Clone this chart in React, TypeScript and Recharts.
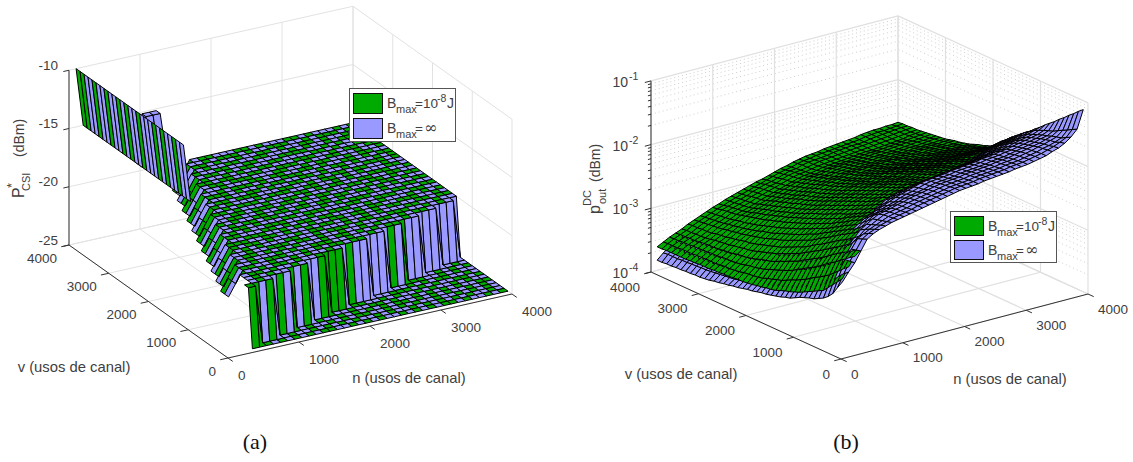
import React from 'react';
import { ScatterChart, Scatter, XAxis, YAxis, Legend } from 'recharts';

const GREEN = '#00AA00';
const BLUE = '#9999FF';
const TXT = '#404040';
const FONT = '"Liberation Sans", Arial, sans-serif';

const nTicks = [0, 1000, 2000, 3000, 4000];
const vTicks = [0, 1000, 2000, 3000, 4000];
const tickNames = ['0', '1000', '2000', '3000', '4000'];
const zTicksA = [-10, -15, -20, -25];
const zTicksB = [-1, -2, -3, -4];
const minorDecades = [2, 3, 4, 5, 6, 7, 8, 9];
const titleN = 'n (usos de canal)';
const titleV = 'v (usos de canal)';
const seriesNames = ['Bmax=10^-8 J', 'Bmax=inf'];

// chart (a): power level per (n, v) region, grid of 100 channel uses
const plateauFrom = [0, 400, 400, 500, 500, 500, 600, 600, 600, 700, 700, 700, 800, 800, 800, 900, 900, 900, 1000, 1000, 1000, 1100, 1100, 1100, 1200, 1200, 1200, 1300, 1300, 1300, 1400, 1400, 1400, 1500, 1500, 1500, 1600, 1600, 1600, 1700];
const plateauTo = [0, 500, 800, 1100, 1400, 1700, 2000, 2400, 2700, 3000, 3300, 3600, 3900, 4000, 4000, 4000, 4000, 4000, 4000, 4000, 4000, 4000, 4000, 4000, 4000, 4000, 4000, 4000, 4000, 4000, 4000, 4000, 4000, 4000, 4000, 4000, 4000, 4000, 4000, 4000];
const levelsA = { ridgeTop: -10, ridgeLow: -15, plateau: -20, floor: -25, flap: -11, flapLow: -13, stepHigh: -21, stepLow: -22 };
const frontColors = 'ggbgbgbgbgbbggggbgbbbbbbgbgbbbbbbbbbb';
const ridgeColors = 'bbgbbgbgbbbgbbgbgbbgbbgbbgg';
const hangColors = 'ggggbgbgbgbggbgbgbbgbbgbgbgbgbbgbgbgbgbg';
const cellColors = [
  'gbgbbgbgbgbgbggbbgbgbgbbgbgbgbggbgbbgbgb',
  'bgbggbbgbgbbgbgbgbgbbgbgbbgbgbgbgbgbbgbg',
  'gbbgbgbgbggbgbbgbgbggbbgbgbgbbgbbgbgbgbb',
  'bggbbgbgbbgbgbgbbgbgbgbgbggbgbgbgbbgbgbg',
  'gbbgbggbgbbgbggbgbbgbbggbgbbgbgbgbgbbggb',
  'bgbbgbbgbggbgbbgbggbggbbgbgbbgbgbbgbgbbg',
  'gbggbggbbgbbgbgbbgbbgbbgbbgggbgbgbbggbgb',
  'bgbbgbbgbgggbbgbgbggbggbbggbbgbgbggbbgbg',
  'ggbgbgbgbbbgbgbbgggbbgbbgbbgbbggbbgbgbbg',
  'bbggbgbggbgbgbgbbbgbggbgbgbgggbbgbgbgbgb',
  'gbbgbgbbgbbgggbggbgbbgbbgbgbbbgbgbbgbgbg',
  'bggbbggbgbgbbbggbbgbgggbgbbggbgbggbgbgbb',
  'ggbbgbbgbggbgbbbgbggbbbgbggbbgggbbgbgbgg',
  'bbggbgbgggbbggbgbbgbggbgbbgbgbbbggbbgbbg',
  'gbgbgbbgbbgggbbgbgbgbbggbggbgbggbbggbggb',
  'bgbggbgbggbbbggbgbggbggbbbgbggbbgggbbgbb',
  'ggbbgggbbgbgbbgggbbbgbbgggbbgbgbbbgbgbgg',
  'bbgbbbgggbggbgbbbggbgggbbbggbbgggbbggbbg',
  'gbgggbbgbbgbggbggbbgbbbgbgbgggbbbggbbggb',
  'bgbbbggbggbgbbggbggbggbggbgbbbgbgbbggbbg',
  'gbggbbgbgbbggbbgbbgbbgbbgbggbggbgbgbbggb',
  'bbgbggbgggbbggbgggbggbgbggbbgbbgbggbgbbg',
  'ggbgbbgbbbggbgbbbgbbggbgbbgbbggbggbgbggb',
  'bgbbgbggbgbbgbgggbgbbbggbgbggbbggbbggbbg',
  'gggbbggbgbggbgbbbgbgggbbggbbgbgbbgggbbgb',
  'bbgggbbgbgbbggbgggbbbggbbgbggbgbgbbbggbg',
  'gbbbgggbggbgbbgbbggbgbbggbbgbggbggbbgbbg',
  'bggbbbbgbbgbgggbgbbgbggbbggbgbbgbbgggbgb',
  'gbgggbgbgggbbbgbgggbgbbgggbbgbggbgbbgbgb',
  'bgbbbgbgbbbggbbgbbbggbggbbggbgbbggbgbggb',
  'ggbgbbggbggbgbggbgggbbbggbbgbggbbgbggbbg',
  'bbggbgbbgbbgbggbggbbggbbgggbgbbggbbgbbgb',
  'gbbgbgbgbggbbbgbbgbgbbggbbbgggbbgbggbggb',
  'bggbgbbggbbgggbggbgbggbbggbbbbggbgbbgbbg',
  'gbgbbgggbggbbbgbbggbbggbbbggggbbgbgbbggb',
  'bgbgbbbgbbbggbgbgbbggbbggbbbgbgbbgbggbbg',
  'gbbgggbbgggbbgbggbgbbgbbggbgbbggbgbbgbgb',
  'bggbbbggbbgbgbgbbgbgggbgbbgggbbgbgggbgbg',
  'gbbggbbgbgbgbbggbggbbbggbgbbbggbgbbbgbgb',
  'bgbbgbgbgbggbgbbgbbggbbgbggbgbbggbggbgbg',
];

// chart (b): hundredths of a decade above 1e-4, rows v = 100..4000, columns n = 100..4000
const greenLog = [
  [120,136,150,158,165,172,178,182,185,188,190,193,195,197,199,201,203,204,206,207,208,209,211,212,213,214,215,216,218,219,220,221,223,224,226,228,230,233,236,240],
  [112,130,145,154,161,169,175,179,182,186,188,191,193,195,197,199,201,202,204,205,206,207,209,210,211,212,213,214,216,217,218,219,221,222,224,226,228,230,233,237],
  [104,123,139,149,158,165,172,176,180,183,186,189,191,193,195,197,199,201,203,204,205,206,208,209,210,211,212,213,215,216,217,218,219,220,222,224,225,228,230,233],
  [96,117,134,144,154,162,168,173,177,180,183,186,188,191,193,195,197,199,201,202,203,204,206,207,208,209,210,211,213,214,215,216,217,218,220,221,223,225,227,230],
  [88,110,128,140,150,158,165,170,174,178,181,184,186,189,191,193,195,197,199,200,201,202,204,205,206,207,208,209,211,212,213,214,215,216,218,219,220,222,224,226],
  [84,105,123,135,145,153,160,166,170,174,177,180,183,186,188,190,192,194,196,198,199,200,201,203,204,205,206,207,208,209,210,211,212,213,215,216,217,219,221,222],
  [80,100,118,130,140,148,156,161,166,170,173,176,179,182,185,187,189,192,194,195,196,197,199,200,201,202,203,204,206,207,208,209,210,211,212,213,214,216,217,219],
  [76,96,112,124,135,144,151,157,161,166,170,173,176,179,182,185,187,189,191,193,194,195,196,198,199,200,201,202,203,204,205,206,207,208,210,211,212,212,214,215],
  [72,91,107,119,130,139,147,152,157,162,166,169,172,176,179,182,184,187,189,190,191,192,194,195,196,197,198,199,201,202,203,204,205,206,207,208,209,209,210,212],
  [68,86,102,114,125,134,142,148,153,158,162,165,169,173,176,179,181,184,186,188,189,190,191,193,194,195,196,197,198,199,200,201,202,203,204,205,206,206,207,208],
  [65,82,98,110,120,129,137,143,149,154,158,161,165,169,172,175,178,181,183,185,186,187,188,190,191,192,193,194,195,196,196,197,198,199,200,201,202,202,203,204],
  [62,78,93,105,116,124,132,139,144,149,154,157,161,165,169,172,174,177,180,182,183,184,185,187,188,189,190,190,191,192,193,194,195,195,196,197,198,198,199,200],
  [60,75,89,101,111,120,128,134,140,145,150,153,158,161,165,168,171,174,176,178,180,181,182,184,185,186,187,187,188,189,190,190,191,192,193,193,194,194,195,196],
  [57,71,84,96,107,115,123,130,135,141,145,149,154,158,161,164,167,170,173,175,177,178,179,181,182,183,184,184,185,186,186,187,188,188,189,189,190,190,191,192],
  [54,67,80,92,102,110,118,125,131,136,141,146,150,154,158,161,164,167,170,172,174,175,176,178,179,180,181,181,182,183,183,184,185,185,186,186,187,187,188,188],
  [52,65,77,89,98,106,114,121,127,133,138,143,147,151,155,158,161,164,167,169,170,172,173,175,176,177,177,178,178,179,180,180,181,181,182,182,183,183,183,183],
  [51,62,74,85,95,103,111,118,124,129,134,139,143,147,151,154,157,160,163,165,167,168,169,171,172,173,174,174,175,176,176,176,177,177,178,178,178,178,179,179],
  [49,60,71,82,91,99,107,114,120,126,131,136,140,144,148,151,154,157,160,162,163,165,166,168,169,170,170,171,171,172,172,173,173,173,173,174,174,174,174,174],
  [48,57,68,78,88,96,104,110,117,122,127,132,137,141,145,148,151,154,157,159,160,162,163,165,166,167,167,168,168,169,169,169,169,169,169,169,169,169,169,169],
  [46,55,65,75,84,92,100,107,113,119,124,129,133,137,141,144,147,150,153,155,156,158,159,161,162,163,163,164,164,165,165,165,165,165,165,165,165,165,164,164],
  [45,54,63,73,82,89,97,104,110,116,121,126,130,134,138,141,144,147,150,152,153,155,156,158,159,160,160,161,161,162,162,162,162,162,162,162,162,162,161,161],
  [44,53,61,71,79,87,94,101,107,113,118,123,127,131,135,138,141,144,147,149,150,152,153,155,156,157,157,158,158,159,159,159,159,159,159,159,159,159,158,158],
  [44,52,60,68,77,84,92,98,104,110,115,119,123,127,131,134,137,140,143,145,147,148,150,151,152,153,153,154,154,155,155,155,156,156,156,156,156,156,156,156],
  [43,50,58,66,74,82,89,95,101,107,112,116,120,124,128,131,134,137,140,142,144,145,147,148,149,150,150,151,151,152,152,152,153,153,153,153,153,153,153,153],
  [42,49,56,64,72,79,86,92,98,104,109,113,117,121,125,128,131,134,137,139,141,142,144,145,146,147,147,148,148,149,149,149,150,150,150,150,150,150,150,150],
  [42,48,55,63,70,77,84,90,96,102,106,110,114,118,122,125,128,131,134,136,138,139,141,142,143,144,144,145,145,146,146,147,147,148,148,148,148,148,148,148],
  [41,48,54,62,69,75,82,88,93,99,104,108,112,116,119,122,125,128,131,133,135,136,138,139,140,141,142,142,143,144,144,144,145,145,146,146,146,146,146,146],
  [41,47,54,60,67,74,80,85,91,97,101,105,109,113,117,120,123,126,129,131,133,134,136,137,138,139,139,140,141,141,141,142,142,143,144,144,144,144,145,145],
  [40,46,53,59,66,72,78,83,88,94,99,102,106,110,114,117,120,123,126,128,130,131,133,134,135,136,136,137,138,138,139,139,140,141,141,142,142,142,143,143],
  [40,46,52,58,64,70,76,81,86,92,96,100,104,108,111,114,117,120,123,125,127,128,130,131,132,133,134,134,135,136,136,137,137,138,139,139,140,140,141,141],
  [40,46,52,57,63,69,75,79,84,90,94,98,101,105,108,111,114,117,120,123,125,126,128,129,130,131,132,132,133,134,134,135,135,136,137,137,138,139,140,140],
  [39,45,51,56,62,67,73,78,82,88,92,95,99,103,106,109,112,115,118,120,122,123,125,127,128,129,130,130,131,132,132,133,133,134,135,136,137,137,138,139],
  [39,45,51,56,61,66,72,76,81,86,89,93,96,100,103,106,109,112,115,118,120,121,123,125,126,127,128,128,129,130,131,131,132,133,134,135,135,136,137,138],
  [38,44,50,55,59,65,70,75,79,84,87,90,94,97,101,104,107,110,113,115,117,118,120,122,123,124,125,126,127,128,129,129,130,131,132,133,134,135,136,137],
  [38,44,50,54,58,63,69,73,77,82,85,88,91,95,98,101,104,107,110,113,115,116,118,120,121,122,123,124,125,126,127,127,128,129,130,131,132,134,135,136],
  [38,44,49,53,57,62,68,72,76,81,84,87,90,94,97,100,103,106,109,112,114,115,117,119,120,121,122,123,124,125,126,127,128,129,130,131,132,133,134,135],
  [38,43,49,53,57,62,67,71,75,80,83,86,89,93,96,99,102,104,108,111,113,114,116,118,120,121,122,123,124,125,126,127,128,129,130,131,132,133,134,135],
  [38,43,48,52,56,61,66,70,74,79,82,85,88,91,95,98,101,103,106,109,112,113,116,118,119,120,121,123,124,125,126,126,127,129,130,131,132,133,134,134],
  [37,43,48,52,56,61,65,69,73,77,80,84,87,90,93,96,99,102,105,108,110,112,115,117,118,120,121,122,123,124,125,126,127,129,130,131,131,132,133,134],
  [37,42,47,51,55,60,64,68,72,76,79,83,86,89,92,95,98,100,103,106,109,111,114,116,118,119,120,122,123,124,125,126,127,129,130,131,131,132,132,133],
];
const blueLog = [
  [115,128,140,156,172,178,182,185,188,190,192,194,196,198,200,202,204,206,208,210,211,212,213,215,216,217,218,219,221,222,223,225,227,229,233,236,241,248,258,286],
  [103,122,139,154,169,175,179,183,186,189,191,193,195,198,200,202,204,206,208,210,211,212,213,215,216,217,218,219,221,222,223,225,227,229,232,235,239,244,254,280],
  [90,115,138,152,166,171,176,180,184,188,190,192,194,197,199,201,203,205,207,209,210,211,212,214,215,216,217,218,220,221,222,224,226,228,231,233,236,240,250,273],
  [82,106,126,142,157,164,172,177,182,187,189,191,193,196,198,200,202,204,206,208,209,210,211,213,214,215,216,217,219,220,221,223,225,227,230,232,235,238,246,267],
  [76,98,115,132,148,158,168,174,180,185,187,189,192,194,197,199,201,203,205,207,208,209,210,212,213,214,215,216,218,219,220,222,224,226,228,230,233,236,242,260],
  [72,92,109,125,140,150,160,167,174,180,183,185,188,191,194,196,198,200,203,205,206,207,208,210,211,212,213,214,216,217,218,220,222,224,226,228,231,233,238,254],
  [68,86,102,117,133,143,153,161,168,174,177,181,184,187,191,194,196,199,202,204,205,206,207,209,210,211,212,213,215,216,217,219,220,222,224,226,228,231,235,247],
  [66,80,95,110,125,135,145,155,162,168,172,176,180,184,188,191,194,197,200,202,203,204,205,207,208,209,210,211,213,214,215,217,218,220,222,224,226,228,232,241],
  [63,77,91,105,119,128,137,146,153,159,164,169,174,178,183,186,189,192,194,196,198,199,200,202,203,204,205,206,208,209,211,213,214,216,219,221,223,225,229,235],
  [60,74,88,100,113,121,130,137,144,150,156,162,167,172,178,181,184,186,188,190,192,193,194,196,197,198,200,201,202,204,206,208,210,212,215,217,219,222,225,228],
  [56,70,83,95,106,114,123,129,136,142,148,153,158,163,169,171,174,177,179,181,183,184,186,188,189,191,193,194,196,198,200,202,205,207,210,212,214,217,220,222],
  [52,66,78,90,100,108,116,122,129,135,140,145,150,155,160,162,165,168,170,172,174,176,178,180,182,184,186,188,190,193,195,197,200,202,205,207,209,212,215,215],
  [50,63,75,86,96,104,111,117,124,130,134,139,144,149,153,156,159,162,164,167,169,171,173,175,177,179,181,183,185,187,189,191,194,196,199,201,203,206,209,209],
  [47,60,71,82,93,100,107,112,119,125,129,133,138,142,147,149,152,155,158,161,163,165,167,169,171,173,175,177,179,181,183,185,188,190,193,195,197,200,203,202],
  [45,57,68,79,90,96,103,108,114,120,124,128,132,136,140,143,146,149,152,155,157,159,161,163,165,167,169,171,173,175,177,179,182,184,187,189,191,194,197,196],
  [43,55,65,76,86,92,99,104,110,116,120,124,128,132,136,139,142,145,148,151,153,155,157,159,161,163,165,167,169,171,172,174,177,178,181,183,185,188,190,190],
  [41,52,63,73,83,89,96,100,106,112,116,120,124,128,133,136,139,142,145,148,150,152,154,156,158,159,161,163,164,166,168,169,171,172,175,177,179,181,184,183],
  [40,50,60,70,79,85,92,97,102,108,112,116,120,125,130,133,136,139,142,145,147,149,151,152,154,155,157,158,160,161,163,164,166,167,169,171,172,175,177,177],
  [38,47,58,67,76,82,88,93,98,104,108,112,116,121,126,129,132,135,138,141,143,145,147,149,151,152,153,155,155,157,158,159,160,161,163,164,165,166,168,170],
  [36,44,55,64,72,78,85,90,95,100,104,108,112,117,122,125,129,132,135,138,140,142,144,146,148,149,150,151,151,152,153,154,155,155,156,157,158,158,159,164],
  [35,43,53,62,70,76,83,88,93,98,102,106,110,115,120,123,127,130,133,136,138,140,142,144,146,147,148,149,149,150,151,152,153,153,154,155,156,156,157,158],
  [33,41,50,59,67,74],[31,39,48,56,64,71],[30,37,46,54,61,69],[28,35,44,52,59,67],[27,34,42,50,57,65],[25,33,41,48,56,63],[24,32,40,47,54,61],[22,31,39,46,53,59],[21,30,38,45,51,57],
  [20,29,37,44,50,56],[20,29,37,43,49,55],[19,28,36,42,48,54],[19,28,35,41,47,53],[18,27,35,41,46,52],[18,27,34,40,45,51],[17,26,34,39,45,50],[17,26,33,39,44,49],[16,26,33,38,43,48],[16,25,32,37,42,47],
];

type Pt = [number, number];
type Item = any;

function pathItem(points: Pt[], s: any): Item {
  const sx = points.reduce((a, p) => a + p[0], 0) / points.length;
  const sy = points.reduce((a, p) => a + p[1], 0) / points.length;
  return { sx, sy, pts: points.map((p) => [p[0] - sx, p[1] - sy]), ...s };
}
function textItem(sx: number, sy: number, label: string, o: any = {}): Item {
  return { sx, sy, label, ...o };
}

function Mark(props: any) {
  const { cx, cy } = props;
  const p = props.payload || props;
  if (p.label != null) {
    return (
      <text
        x={cx}
        y={cy}
        fontFamily={p.family || FONT}
        fontSize={p.size || 13.5}
        fill={p.color || TXT}
        textAnchor={p.anchor || 'middle'}
        dominantBaseline={p.base || 'central'}
        transform={p.rot ? `rotate(${p.rot} ${cx} ${cy})` : undefined}
      >
        {p.label}
      </text>
    );
  }
  const d = p.pts.map((q: number[], i: number) => `${i ? 'L' : 'M'}${(cx + q[0]).toFixed(2)} ${(cy + q[1]).toFixed(2)}`).join('') + (p.closed ? 'Z' : '');
  return <path d={d} fill={p.paint || 'none'} stroke={p.line} strokeWidth={p.w || 1} strokeDasharray={p.dash} strokeLinejoin="round" />;
}

function legendRow(top: number, patch: string, exp: boolean, h: number) {
  const txt: any = { position: 'absolute', whiteSpace: 'nowrap', fontFamily: FONT, color: TXT, lineHeight: 1 };
  return (
    <React.Fragment key={patch}>
      <div style={{ position: 'absolute', left: 3, top, width: 30, height: h, background: patch, border: '1px solid #111', boxSizing: 'border-box' }} />
      <span style={{ ...txt, left: 37, top: top + 3, fontSize: 14 }}>B</span>
      <span style={{ ...txt, left: 46, top: top + 11, fontSize: 11 }}>max</span>
      <span style={{ ...txt, left: 65, top: top + 4, fontSize: 13.5 }}>{exp ? '=10' : '='}</span>
      {exp ? <span style={{ ...txt, left: 87, top: top, fontSize: 10.5 }}>-8</span> : null}
      {exp ? <span style={{ ...txt, left: 97, top: top + 3, fontSize: 14 }}>J</span> : <span style={{ ...txt, left: 74, top: top + 2, fontSize: 16, fontFamily: '"DejaVu Serif", serif' }}>∞</span>}
    </React.Fragment>
  );
}
const legendBox = (height: number, patchH: number, gap: number) => () => (
  <div style={{ position: 'relative', width: 107, height, background: '#fff', border: '1px solid #555', boxSizing: 'border-box' }}>
    {legendRow(4, GREEN, true, patchH)}
    {legendRow(4 + gap, BLUE, false, patchH)}
  </div>
);

/* ---------- chart (a) ---------- */
const ax = { ox: 228, oy: 358, nx: 284, ny: -64, vx: -159, vy: -113, zs: 11.65 };
const pA = (n: number, v: number, z: number): Pt => [
  ax.ox + (ax.nx * n) / 4000 + (ax.vx * v) / 4000,
  ax.oy + (ax.ny * n) / 4000 + (ax.vy * v) / 4000 - ax.zs * (z + 25),
];
function zA(i: number, j: number): number | null {
  const n = (i + 1) * 100;
  if ((j === 25 || j === 26) && (n === 300 || n === 400 || n === 500)) return levelsA.flap;
  if (j === 24 && (n === 300 || n === 400 || n === 500)) return levelsA.flapLow;
  if (j >= 12 && i === 0) return levelsA.ridgeTop;
  if (j >= 12 && i === 1) return levelsA.ridgeLow;
  const pf = plateauFrom[j];
  const pt = plateauTo[j];
  if (pf && n >= pf && n <= pt) return levelsA.plateau;
  if (pf && j >= 6 && n === pf - 100) return levelsA.stepHigh;
  if (pf && j >= 6 && n === pf - 200) return levelsA.stepLow;
  if (n > pt && n >= 400) return levelsA.floor;
  return null;
}
function buildA() {
  const cells: any[] = [];
  for (let j = 0; j < 39; j++) {
    for (let i = 0; i < 39; i++) {
      const zs = [zA(i, j), zA(i + 1, j), zA(i + 1, j + 1), zA(i, j + 1)];
      if (zs.some((z) => z === null)) continue;
      const z4 = zs as number[];
      const n0 = (i + 1) * 100;
      const v0 = (j + 1) * 100;
      const n1 = n0 + 100;
      const v1 = v0 + 100;
      const range = Math.max(...z4) - Math.min(...z4);
      let c = cellColors[j][i];
      if (i === 0 && j >= 12) c = ridgeColors[j - 12] || 'b';
      else if (j >= 6 && i >= 2 && n0 < plateauFrom[j]) c = hangColors[j] || 'g';
      else if (range >= 3) c = frontColors[i - 3] || 'b';
      if (j >= 24 && j <= 26 && i >= 1 && i <= 4) c = 'b';
      const zm = (z4[0] + z4[1] + z4[2] + z4[3]) / 4;
      const key = (0.446 * (n0 + 50)) / 4000 - (0.798 * (v0 + 50)) / 4000 + (0.403 * (zm + 25)) / 15;
      cells.push({
        key,
        item: pathItem([pA(n0, v0, z4[0]), pA(n1, v0, z4[1]), pA(n1, v1, z4[2]), pA(n0, v1, z4[3])], {
          paint: c === 'g' ? GREEN : BLUE,
          line: '#000',
          w: 1,
          closed: true,
        }),
      });
    }
  }
  cells.sort((a, b) => a.key - b.key);
  return cells.map((c) => c.item);
}
function frameA() {
  const out: Item[] = [];
  const g = { line: '#e2e2e2', w: 1 };
  const a = { line: '#333', w: 1 };
  nTicks.forEach((n) => {
    out.push(pathItem([pA(n, 0, -25), pA(n, 4000, -25), pA(n, 4000, -10)], g));
  });
  vTicks.forEach((v) => {
    out.push(pathItem([pA(0, v, -25), pA(4000, v, -25), pA(4000, v, -10)], g));
  });
  zTicksA.forEach((z) => {
    out.push(pathItem([pA(0, 4000, z), pA(4000, 4000, z), pA(4000, 0, z)], g));
  });
  out.push(pathItem([pA(0, 4000, -10), pA(0, 4000, -25), pA(0, 0, -25), pA(4000, 0, -25)], a));
  zTicksA.forEach((z) => out.push(pathItem([pA(0, 4000, z), pA(-80, 4000, z)], a)));
  vTicks.forEach((v) => out.push(pathItem([pA(0, v, -25), pA(-110, v, -25)], a)));
  nTicks.forEach((n) => out.push(pathItem([pA(n, 0, -25), pA(n, -120, -25)], a)));
  return out;
}
function textA() {
  const out: Item[] = [];
  zTicksA.forEach((z) => {
    const p = pA(0, 4000, z);
    out.push(textItem(58, p[1] - 5, String(z), { anchor: 'end' }));
  });
  vTicks.forEach((v, k) => {
    const p = pA(0, v, -25);
    out.push(textItem(p[0] - 12, p[1] + 13, tickNames[k], { anchor: 'end' }));
  });
  nTicks.forEach((n, k) => {
    const p = pA(n, 0, -25);
    out.push(textItem(p[0] + 10, p[1] + 17, tickNames[k], { anchor: 'start' }));
  });
  out.push(textItem(74, 367, titleV, { size: 14.8 }));
  out.push(textItem(409, 378, titleN, { size: 14.8 }));
  out.push(textItem(24, 198, 'P', { size: 16, rot: -90, anchor: 'start', base: 'auto' }));
  out.push(textItem(16, 188, '*', { size: 13, rot: -90, anchor: 'start', base: 'auto' }));
  out.push(textItem(30, 191, 'CSI', { size: 11, rot: -90, anchor: 'start', base: 'auto' }));
  out.push(textItem(24, 157, '(dBm)', { size: 14, rot: -90, anchor: 'start', base: 'auto' }));
  out.push(textItem(255, 441, '(a)', { size: 22, family: '"Liberation Serif", serif', color: '#111' }));
  return out;
}

/* ---------- chart (b) ---------- */
const bx = { ox: 841, oy: 359, nx: 247, ny: -65, vx: -190, vy: -87, zs: 63.7 };
const pB = (n: number, v: number, h: number): Pt => [
  bx.ox + (bx.nx * n) / 4000 + (bx.vx * v) / 4000,
  bx.oy + (bx.ny * n) / 4000 + (bx.vy * v) / 4000 - (bx.zs * h) / 100,
];
function meanCell(tbl: number[][], i: number, j: number): number | null {
  const r0 = tbl[j];
  const r1 = tbl[j + 1];
  if (!r0 || !r1) return null;
  const q = [r0[i], r0[i + 1], r1[i + 1], r1[i]];
  if (q.some((x) => x === undefined)) return null;
  return (q[0] + q[1] + q[2] + q[3]) / 4;
}
function buildB() {
  const cells: any[] = [];
  const add = (tbl: number[][], other: number[][], paint: string, isBlue: boolean) => {
    for (let j = 0; j < tbl.length - 1; j++) {
      for (let i = 0; i < 39; i++) {
        const mine = meanCell(tbl, i, j);
        if (mine === null) continue;
        const theirs = meanCell(other, i, j);
        const hidden = theirs !== null && theirs > mine && !(isBlue && i < 6);
        if (hidden) continue;
        const a = tbl[j][i];
        const b = tbl[j][i + 1];
        const c = tbl[j + 1][i + 1];
        const d = tbl[j + 1][i];
        const n0 = (i + 1) * 100;
        const v0 = (j + 1) * 100;
        const key = (0.574 * (n0 + 50)) / 4000 - (0.745 * (v0 + 50)) / 4000 + (0.342 * (mine / 100)) / 3;
        cells.push({
          key,
          item: pathItem([pB(n0, v0, a), pB(n0 + 100, v0, b), pB(n0 + 100, v0 + 100, c), pB(n0, v0 + 100, d)], { paint, line: '#000', w: 1, closed: true }),
        });
      }
    }
  };
  add(blueLog, greenLog, BLUE, true);
  add(greenLog, blueLog, GREEN, false);
  cells.sort((a, b) => a.key - b.key);
  return cells.map((c) => c.item);
}
function frameB() {
  const out: Item[] = [];
  const g = { line: '#e0e0e0', w: 1.2 };
  const m = { line: '#cfcfcf', w: 1, dash: '1 3' };
  const a = { line: '#333', w: 1 };
  const top = 300;
  for (let d = 0; d < 3; d++) {
    minorDecades.forEach((k) => {
      const h = (d + Math.log10(k)) * 100;
      out.push(pathItem([pB(0, 4000, h), pB(4000, 4000, h), pB(4000, 0, h)], m));
    });
  }
  nTicks.forEach((n) => out.push(pathItem([pB(n, 0, 0), pB(n, 4000, 0), pB(n, 4000, top)], g)));
  vTicks.forEach((v) => out.push(pathItem([pB(0, v, 0), pB(4000, v, 0), pB(4000, v, top)], g)));
  zTicksB.forEach((z) => {
    const h = (z + 4) * 100;
    out.push(pathItem([pB(0, 4000, h), pB(4000, 4000, h), pB(4000, 0, h)], g));
  });
  out.push(pathItem([pB(0, 4000, top), pB(0, 4000, 0), pB(0, 0, 0), pB(4000, 0, 0)], a));
  zTicksB.forEach((z) => out.push(pathItem([pB(0, 4000, (z + 4) * 100), pB(-100, 4000, (z + 4) * 100)], a)));
  for (let d = 0; d < 3; d++) {
    minorDecades.forEach((k) => {
      const h = (d + Math.log10(k)) * 100;
      out.push(pathItem([pB(0, 4000, h), pB(-50, 4000, h)], a));
    });
  }
  vTicks.forEach((v) => out.push(pathItem([pB(0, v, 0), pB(-110, v, 0)], a)));
  nTicks.forEach((n) => out.push(pathItem([pB(n, 0, 0), pB(n, -120, 0)], a)));
  return out;
}
function textB() {
  const out: Item[] = [];
  zTicksB.forEach((z) => {
    const p = pB(0, 4000, (z + 4) * 100);
    out.push(textItem(628, p[1] + 1, '10', { anchor: 'end', size: 14 }));
    out.push(textItem(629, p[1] - 5, String(z), { anchor: 'start', size: 10.5 }));
  });
  vTicks.forEach((v, k) => {
    const p = pB(0, v, 0);
    out.push(textItem(p[0] - 11, p[1] + 15, tickNames[k], { anchor: 'end' }));
  });
  nTicks.forEach((n, k) => {
    const p = pB(n, 0, 0);
    out.push(textItem(p[0] + 10, p[1] + 15, tickNames[k], { anchor: 'start' }));
  });
  out.push(textItem(681, 374, titleV, { size: 14.8 }));
  out.push(textItem(1010, 379, titleN, { size: 14.8 }));
  out.push(textItem(600, 214, 'p', { size: 16, rot: -90, anchor: 'start', base: 'auto' }));
  out.push(textItem(591, 206, 'DC', { size: 11, rot: -90, anchor: 'start', base: 'auto' }));
  out.push(textItem(606, 204, 'out', { size: 11, rot: -90, anchor: 'start', base: 'auto' }));
  out.push(textItem(600, 182, '(dBm)', { size: 14, rot: -90, anchor: 'start', base: 'auto' }));
  out.push(textItem(846, 441, '(b)', { size: 22, family: '"Liberation Serif", serif', color: '#111' }));
  return out;
}

function Panel(props: { left: number; width: number; frame: Item[]; surface: Item[]; texts: Item[]; legend: any; legendLeft: number; legendTop: number }) {
  const { left, width, frame, surface, texts, legend, legendLeft, legendTop } = props;
  return (
    <div style={{ position: 'absolute', left, top: 0, width, height: 462 }}>
      <ScatterChart width={width} height={462} margin={{ top: 0, right: 0, bottom: 0, left: 0 }}>
        <XAxis type="number" dataKey="sx" domain={[left, left + width]} hide allowDataOverflow />
        <YAxis type="number" dataKey="sy" domain={[0, 462]} reversed hide allowDataOverflow />
        <Scatter name="frame" data={frame} shape={Mark} isAnimationActive={false} />
        <Scatter name={seriesNames.join(' / ')} data={surface} shape={Mark} isAnimationActive={false} />
        <Scatter name="labels" data={texts} shape={Mark} isAnimationActive={false} />
        <Legend layout="vertical" align="center" verticalAlign="middle" content={legend} wrapperStyle={{ left: legendLeft, top: legendTop, width: 107, margin: 0, bottom: 'auto', right: 'auto' }} />
      </ScatterChart>
    </div>
  );
}

export default function App() {
  return (
    <div style={{ position: 'absolute', left: 0, top: 0, width: 1133, height: 462, background: '#fff', overflow: 'hidden' }}>
      <Panel left={0} width={567} frame={frameA()} surface={buildA()} texts={textA()} legend={legendBox(54, 21, 25)} legendLeft={349} legendTop={88} />
      <Panel left={567} width={566} frame={frameB()} surface={buildB()} texts={textB()} legend={legendBox(52, 20, 24)} legendLeft={383} legendTop={211} />
    </div>
  );
}
